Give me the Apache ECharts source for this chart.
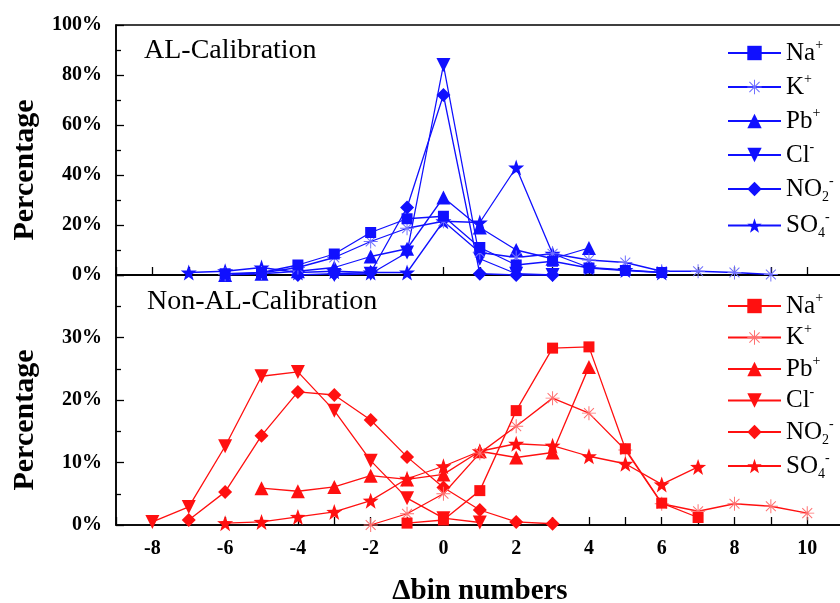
<!DOCTYPE html>
<html>
<head>
<meta charset="utf-8">
<script src="https://cdn.jsdelivr.net/npm/echarts@6/dist/echarts.min.js"></script>
<style>
  html, body { margin: 0; padding: 0; background: #fff; }
  #chart { width: 840px; height: 603px; }
</style>
</head>
<body>
<div id="chart"></div>
<script>
// bins (x values) for each panel
var binsAL = [-7, -6, -5, -4, -3, -2, -1, 0, 1, 2, 3, 4, 5, 6, 7, 8, 9];
var binsNon = [-8, -7, -6, -5, -4, -3, -2, -1, 0, 1, 2, 3, 4, 5, 6, 7, 8, 9, 10];

// AL-Calibration (%)
var naAL  = [null, 0.5, 1, 4, 8.4, 17, 22.5, 23.5, 11, 4, 5.5, 2.8, 1.8, 1, null, null, null];
var kAL   = [null, 0.3, 0.8, 3, 7, 13.4, 18.7, 21.5, 9, 7, 8.5, 6, 5, 1.5, 1.5, 1, 0.2];
var pbAL  = [null, 0, 0.5, 1.5, 3, 7.4, 10.5, 31, 19, 10, 6.5, 10.8, null, null, null, null, null];
var clAL  = [null, null, null, null, 0, 0.5, 9, 84, 6.5, 0.5, 0, null, null, null, null, null, null];
var no2AL = [null, null, null, 0, 0.5, 1, 27, 72, 0.5, 0, 0, null, null, null, null, null, null];
var so4AL = [1, 1.5, 3, 1, 1.5, 1, 1, 21.5, 21, 43, 8.5, 3, 2, 1, null, null, null];

// Non-AL-Calibration (%)
var naNon  = [null, null, null, null, null, null, null, 0.3, 0.8, 5.5, 18.3, 28.3, 28.5, 12.2, 3.5, 1.2, null, null, null];
var kNon   = [null, null, null, null, null, null, 0, 1.8, 5, 11.5, 15.8, 20.3, 17.9, 12, 3.4, 2.2, 3.4, 3, 1.9];
var pbNon  = [null, null, null, 5.9, 5.4, 6.1, 7.9, 7.3, 8.1, 11.8, 10.8, 11.6, 25.3, null, null, null, null, null, null];
var clNon  = [0.5, 2.9, 12.6, 23.8, 24.5, 18.3, 10.3, 4.3, 1.1, 0.4, null, null, null, null, null, null, null, null, null];
var no2Non = [null, 0.8, 5.3, 14.3, 21.3, 20.8, 16.8, 10.9, 6, 2.4, 0.5, 0.2, null, null, null, null, null, null, null];
var so4Non = [null, null, 0.3, 0.5, 1.3, 2.1, 3.9, 7.4, 9.4, 11.8, 13, 12.7, 11, 9.8, 6.5, 9.3, null, null, null];

var ionNames = ["Na", "K", "Pb", "Cl", "NO2", "SO4"];
var ionLabels = ["{b|Na}{sp|+}", "{b|K}{sp|+}", "{b|Pb}{sp|+}", "{b|Cl}{sp|-}", "{b|NO}{sb|2}{sp|-}", "{b|SO}{sb|4}{sp|-}"];

var serif = "'Times New Roman', 'Liberation Serif', serif";

// asterisk and star symbols
function asterisk() {
  var w = 0.07, s = "path://";
  for (var i = 0; i < 4; i++) {
    var a = i * Math.PI / 4, c = Math.cos(a), d = Math.sin(a);
    var pts = [[c + (-d) * w, d + c * w], [-c + (-d) * w, -d + c * w], [-c + d * w, -d - c * w], [c + d * w, d - c * w]];
    s += "M" + pts.map(function (p) { return p[0].toFixed(3) + " " + p[1].toFixed(3); }).join("L") + "Z";
  }
  return s;
}
function star() {
  var pts = [];
  for (var i = 0; i < 10; i++) {
    var r = i % 2 ? 0.4 : 1, a = -Math.PI / 2 + i * Math.PI / 5;
    pts.push((r * Math.cos(a)).toFixed(3) + " " + (r * Math.sin(a)).toFixed(3));
  }
  return "path://M" + pts.join("L") + "Z";
}
var symbols = ["rect", asterisk(), "triangle", "triangle", "diamond", star()];
var sizes = [11, 14, 14, 14, 14, 16];
var rotates = [0, 0, 0, 180, 0, 0];

function pairs(bins, vals) {
  var out = [];
  for (var i = 0; i < bins.length; i++) {
    if (vals[i] != null) out.push([bins[i], vals[i]]);
  }
  return out;
}

var seriesData = [];
var alVals = [naAL, kAL, pbAL, clAL, no2AL, so4AL];
var nonVals = [naNon, kNon, pbNon, clNon, no2Non, so4Non];
function addSeries(vals, bins, idx, tag, color, light) {
  for (var i = 0; i < vals.length; i++) {
    seriesData.push({
      name: ionNames[i] + tag,
      type: "line",
      xAxisIndex: idx,
      yAxisIndex: idx,
      data: pairs(bins, vals[i]),
      symbol: symbols[i],
      symbolSize: sizes[i],
      symbolRotate: rotates[i],
      lineStyle: { color: color, width: 1.3 },
      itemStyle: { color: i == 1 ? light : color },
      emphasis: { disabled: true },
      z: 10 - i
    });
  }
}
addSeries(alVals, binsAL, 0, "_al", "#1010ff", "#7070ff");
addSeries(nonVals, binsNon, 1, "_non", "#ff1010", "#ff7070");

var richText = {
  b: { fontFamily: serif, fontSize: 25, color: "#000", lineHeight: 30 },
  sp: { fontFamily: serif, fontSize: 14, color: "#000", lineHeight: 14, verticalAlign: "top" },
  sb: { fontFamily: serif, fontSize: 14, color: "#000", lineHeight: 14, verticalAlign: "bottom" }
};
function legendFmt(name) {
  return ionLabels[ionNames.indexOf(name.split("_")[0])];
}

function xAx(grid, showLabel) {
  return {
    type: "value",
    gridIndex: grid,
    min: -9,
    max: 12,
    interval: 1,
    axisLine: { onZero: false, lineStyle: { color: "#000", width: 1.5 } },
    axisTick: { inside: true, length: 8, lineStyle: { color: "#000", width: 1.3 } },
    splitLine: { show: false },
    axisLabel: {
      show: showLabel,
      margin: 14,
      color: "#000",
      fontFamily: serif,
      fontWeight: "bold",
      fontSize: 20,
      formatter: function (v) { return (v % 2 === 0 && v <= 10) ? String(v) : ""; }
    },
    name: showLabel ? "Δbin numbers" : "",
    nameLocation: "middle",
    nameGap: 52,
    nameTextStyle: { color: "#000", fontFamily: serif, fontWeight: "bold", fontSize: 29, padding: [0, 36, 0, 0] }
  };
}
function yAx(grid, max, step, hideTop) {
  return {
    type: "value",
    gridIndex: grid,
    min: 0,
    max: max,
    interval: step,
    axisLine: { onZero: false, lineStyle: { color: "#000", width: 1.5 } },
    axisTick: { inside: true, length: 8, lineStyle: { color: "#000", width: 1.3 } },
    minorTick: { show: true, splitNumber: 2, length: 5, lineStyle: { color: "#000", width: 1.3 } },
    splitLine: { show: false },
    axisLabel: {
      margin: 14,
      color: "#000",
      fontFamily: serif,
      fontWeight: "bold",
      fontSize: 20,
      formatter: function (v) { return (hideTop && v === max) ? "" : v + "%"; }
    },
    name: "Percentage",
    nameLocation: "middle",
    nameGap: 76,
    nameTextStyle: { color: "#000", fontFamily: serif, fontWeight: "bold", fontSize: 30, padding: [0, 40, 0, 0] }
  };
}

var chart = echarts.init(document.getElementById("chart"));
var option = {
  animation: false,
  backgroundColor: "#fff",
  title: [
    { text: "AL-Calibration", left: 139, top: 32, textStyle: { fontFamily: serif, fontWeight: "normal", fontSize: 28, color: "#000" } },
    { text: "Non-AL-Calibration", left: 142, top: 283, textStyle: { fontFamily: serif, fontWeight: "normal", fontSize: 28, color: "#000" } }
  ],
  grid: [
    { left: 116, top: 25, width: 764, height: 250, show: true, borderColor: "#000", borderWidth: 1.5, outerBoundsMode: "none" },
    { left: 116, top: 275, width: 764, height: 250, show: true, borderColor: "#000", borderWidth: 1.5, outerBoundsMode: "none" }
  ],
  legend: [
    {
      data: ionNames.map(function (n) { return n + "_al"; }),
      orient: "vertical", left: 727, top: 38, padding: 0, itemWidth: 53, itemHeight: 18, itemGap: 6.5,
      formatter: legendFmt, textStyle: { rich: richText }
    },
    {
      data: ionNames.map(function (n) { return n + "_non"; }),
      orient: "vertical", left: 727, top: 291, padding: 0, itemWidth: 53, itemHeight: 18, itemGap: 4,
      formatter: legendFmt, textStyle: { rich: richText }
    }
  ],
  xAxis: [xAx(0, false), xAx(1, true)],
  yAxis: [yAx(0, 100, 20, false), yAx(1, 40, 10, true)],
  series: seriesData
};
chart.setOption(option);
</script>
</body>
</html>
